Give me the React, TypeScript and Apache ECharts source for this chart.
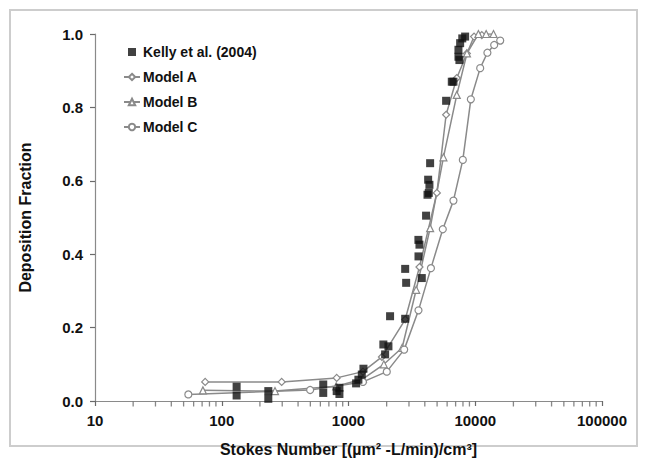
import React, { useEffect, useRef } from "react";
import * as echarts from "echarts";

// Kelly et al. (2004) measurements
const kellyX = [131, 131, 233, 233, 632, 632, 807, 848, 848, 1148, 1197, 1273, 1312, 1884, 2066, 1945, 2128, 2800, 2850, 2800, 3566, 3786, 3560, 3630, 4093, 4200, 4300, 4350, 4250, 4405, 5890, 6530, 6730, 7370, 7370, 7500, 7600, 7900, 8320];
const kellyY = [0.039, 0.015, 0.027, 0.006, 0.045, 0.022, 0.027, 0.036, 0.019, 0.048, 0.058, 0.072, 0.088, 0.154, 0.149, 0.127, 0.231, 0.224, 0.322, 0.36, 0.394, 0.335, 0.439, 0.426, 0.505, 0.562, 0.567, 0.589, 0.603, 0.648, 0.818, 0.87, 0.87, 0.938, 0.957, 0.929, 0.975, 0.988, 0.993];

const modelAX = [74, 297, 807, 1300, 1835, 2800, 3630, 4980, 5890, 7150, 8590, 9790, 11270];
const modelAY = [0.052, 0.052, 0.063, 0.08, 0.12, 0.222, 0.365, 0.567, 0.78, 0.88, 0.947, 0.993, 0.997];

const modelBX = [71, 263, 800, 1300, 1900, 2650, 3420, 4405, 5610, 7150, 8600, 10590, 12190, 13930];
const modelBY = [0.029, 0.027, 0.04, 0.06, 0.1, 0.145, 0.303, 0.471, 0.664, 0.834, 0.947, 1.0, 1.0, 1.0];

const modelCX = [54.5, 498, 1300, 2005, 2750, 3566, 4470, 5545, 6730, 7980, 9230, 10940, 12470, 14100, 15740];
const modelCY = [0.018, 0.03, 0.052, 0.08, 0.14, 0.247, 0.362, 0.468, 0.546, 0.657, 0.822, 0.907, 0.949, 0.97, 0.982];

const yTicks = [0, 0.2, 0.4, 0.6, 0.8, 1.0];
const xMinorTicks = [
  20, 30, 40, 50, 60, 70, 80, 90,
  200, 300, 400, 500, 600, 700, 800, 900,
  2000, 3000, 4000, 5000, 6000, 7000, 8000, 9000,
  20000, 30000, 40000, 50000, 60000, 70000, 80000, 90000,
];

const FONT = "Liberation Sans";
const LINE = "#8a8a8a";
const TICK = "#6a6a6a";

const zip = (xs: number[], ys: number[]) => xs.map((x, i) => [x, ys[i]]);

export default function App() {
  const ref = useRef<HTMLDivElement>(null);
  useEffect(() => {
    if (!ref.current) return;
    const chart = echarts.init(ref.current, undefined, { renderer: "svg" });
    const modelSeries = (name: string, xs: number[], ys: number[], symbol: string, size: number) => ({
      name,
      type: "line",
      data: zip(xs, ys),
      symbol,
      symbolSize: size,
      showAllSymbol: true,
      lineStyle: { color: LINE, width: 1.5 },
      itemStyle: { color: "#ffffff", borderColor: LINE, borderWidth: 1.2 },
      z: 3,
    });
    chart.setOption({
      animation: false,
      textStyle: { fontFamily: FONT },
      graphic: [
        {
          type: "rect",
          shape: { x: 10, y: 10, width: 627, height: 436 },
          style: { fill: "none", stroke: "#cdcdcd", lineWidth: 2 },
          silent: true,
          z: -1,
        },
      ],
      grid: { left: 95, right: 43, top: 34, bottom: 72 },
      legend: {
        orient: "vertical",
        left: 118,
        top: 40,
        itemWidth: 16,
        itemHeight: 8,
        itemGap: 11,
        textStyle: { fontFamily: FONT, fontWeight: "bold", fontSize: 14, color: "#111", padding: [0, 0, 0, -2] },
        data: [
          { name: "Kelly et al. (2004)", icon: "path://M0,0h1v1h-1z", itemStyle: { color: "#111" } },
          { name: "Model A" },
          { name: "Model B" },
          { name: "Model C" },
        ],
      },
      xAxis: {
        type: "log",
        logBase: 10,
        min: 10,
        max: 100000,
        name: "Stokes Number [(µm² -L/min)/cm³]",
        nameLocation: "middle",
        nameGap: 40,
        nameTextStyle: { fontFamily: FONT, fontWeight: "bold", fontSize: 16, color: "#111" },
        axisLine: { lineStyle: { color: LINE, width: 1.2 } },
        axisTick: { show: true, length: 5, lineStyle: { color: TICK, width: 1.2 } },
        axisLabel: {
          fontFamily: FONT,
          fontWeight: "bold",
          fontSize: 15,
          color: "#111",
          margin: 12,
          formatter: (v: number) => String(Math.round(v)),
        },
        splitLine: { show: false },
      },
      yAxis: {
        type: "value",
        min: 0,
        max: 1,
        interval: 0.2,
        name: "Deposition Fraction",
        nameLocation: "middle",
        nameGap: 62,
        nameTextStyle: { fontFamily: FONT, fontWeight: "bold", fontSize: 16, color: "#111" },
        axisLine: { show: true, lineStyle: { color: LINE, width: 1.2 } },
        axisTick: { show: true, length: 5, lineStyle: { color: TICK, width: 1.2 } },
        axisLabel: {
          fontFamily: FONT,
          fontWeight: "bold",
          fontSize: 15,
          color: "#111",
          margin: 12,
          formatter: (v: number) => (yTicks.some((t) => Math.abs(t - v) < 1e-9) ? v.toFixed(1) : ""),
        },
        splitLine: { show: false },
      },
      series: [
        {
          name: "minorTicks",
          type: "scatter",
          silent: true,
          clip: false,
          data: xMinorTicks.map((v) => [v, 0]),
          symbol: "rect",
          symbolSize: [1.3, 5],
          symbolOffset: [0, 3],
          itemStyle: { color: TICK },
          z: 1,
        },
        modelSeries("Model A", modelAX, modelAY, "diamond", 7),
        modelSeries("Model B", modelBX, modelBY, "triangle", 7),
        modelSeries("Model C", modelCX, modelCY, "circle", 7),
        {
          name: "Kelly et al. (2004)",
          type: "scatter",
          data: zip(kellyX, kellyY),
          symbol: "rect",
          symbolSize: 8,
          itemStyle: { color: "#111" },
          z: 4,
        },
      ],
    });
    return () => chart.dispose();
  }, []);
  return (
    <div
      ref={ref}
      style={{ position: "fixed", left: 0, top: 0, width: 645, height: 473, background: "#fff" }}
    />
  );
}
